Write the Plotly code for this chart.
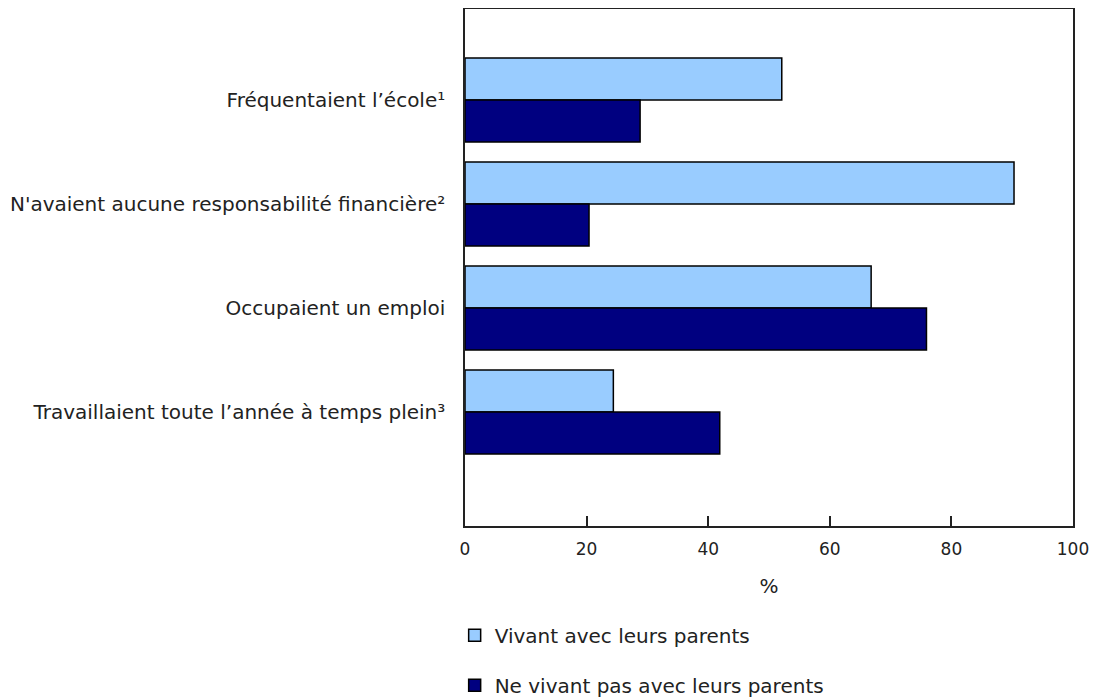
import plotly.graph_objects as go

categories = [
    "Fréquentaient l’école¹",
    "N'avaient aucune responsabilité financière²",
    "Occupaient un emploi",
    "Travaillaient toute l’année à temps plein³",
]
series_names = ["Vivant avec leurs parents", "Ne vivant pas avec leurs parents"]
vivant = [52.1, 90.3, 66.8, 24.4]
ne_vivant = [28.8, 20.4, 75.9, 41.9]
x_ticks = [0, 20, 40, 60, 80, 100]

colors = ["#99CCFF", "#000080"]
FONT = "Verdana, DejaVu Sans, sans-serif"
FS = 20

ypos = list(range(len(categories)))

fig = go.Figure()
for name, vals, col in zip(series_names, [vivant, ne_vivant], colors):
    fig.add_trace(go.Bar(
        x=vals, y=ypos, orientation="h", name=name,
        marker=dict(color=col, line=dict(color="#000000", width=1.5)),
        legendgroup=name,
    ))

fig.update_layout(
    width=1090, height=692,
    barmode="group", bargap=0.192, bargroupgap=0,
    plot_bgcolor="white", paper_bgcolor="white",
    margin=dict(l=457, r=25, t=1, b=174, autoexpand=False),
    font=dict(family=FONT, size=FS, color="#222222"),
    showlegend=True,
    legend=dict(
        x=-0.017, xanchor="left", y=-0.1735, yanchor="top",
        orientation="v", traceorder="grouped", tracegroupgap=21,
        font=dict(family=FONT, size=FS, color="#222222"),
        bgcolor="rgba(0,0,0,0)",
    ),
)
fig.update_xaxes(
    range=[0, 100], tickvals=x_ticks, ticktext=[str(v) for v in x_ticks],
    ticks="inside", ticklen=10, tickwidth=1.5, tickcolor="#222222",
    ticklabelstandoff=7, ticklabeloverflow="allow",
    tickfont=dict(family=FONT, size=17),
    showline=True, linecolor="#222222", linewidth=1.5, mirror=True,
    showgrid=False, zeroline=False,
    title=dict(text="%", standoff=21, font=dict(family=FONT, size=FS)),
)
fig.update_yaxes(
    range=[4.096, -0.875], tickvals=ypos, ticktext=categories,
    ticks="", ticklabelstandoff=14,
    showline=True, linecolor="#222222", linewidth=1.5, mirror=True,
    showgrid=False, zeroline=False,
)

fig.write_html("out.html")
